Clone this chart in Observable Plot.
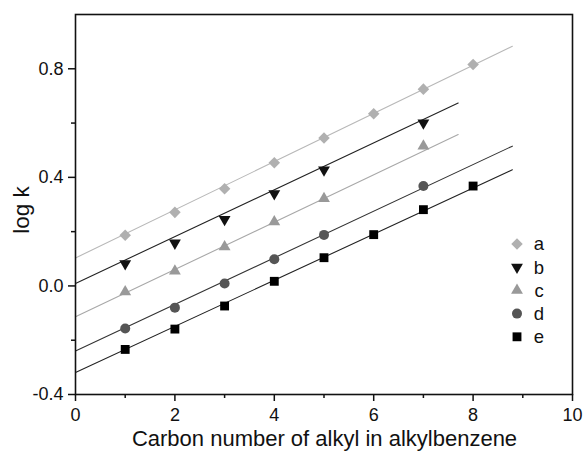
<!DOCTYPE html>
<html>
<head>
<meta charset="utf-8">
<script src="https://cdn.jsdelivr.net/npm/d3@7"></script>
<script src="https://cdn.jsdelivr.net/npm/@observablehq/plot@0.6"></script>
<style>
  html, body { margin: 0; padding: 0; background: #fff; }
  #chart { width: 583px; height: 452px; }
  svg { font-family: "Liberation Sans", Arial, sans-serif; }
</style>
</head>
<body>
<div id="chart"></div>
<script>
// log k versus carbon number of the alkyl chain, five systems a–e
const seriesNames = ["a", "b", "c", "d", "e"];

const carbonA = [1, 2, 3, 4, 5, 6, 7, 8];
const logkA   = [0.187, 0.271, 0.358, 0.454, 0.545, 0.634, 0.725, 0.816];

const carbonB = [1, 2, 3, 4, 5, 7];
const logkB   = [0.082, 0.158, 0.245, 0.340, 0.427, 0.601];

const carbonC = [1, 2, 3, 4, 5, 7];
const logkC   = [-0.022, 0.055, 0.144, 0.236, 0.322, 0.515];

const carbonD = [1, 2, 3, 4, 5, 7];
const logkD   = [-0.157, -0.080, 0.009, 0.098, 0.188, 0.368];

const carbonE = [1, 2, 3, 4, 5, 6, 7, 8];
const logkE   = [-0.234, -0.159, -0.074, 0.017, 0.104, 0.189, 0.281, 0.368];

// Linear fit lines: end points (carbon number, log k)
const fitX0 = [0, 0, 0, 0, 0];
const fitY0 = [0.103, 0.009, -0.114, -0.240, -0.319];
const fitX1 = [8.79, 7.70, 7.70, 8.79, 8.79];
const fitY1 = [0.883, 0.674, 0.558, 0.515, 0.428];

const xMajor = [0, 2, 4, 6, 8, 10];
const xMinor = [1, 3, 5, 7, 9];
const yMajor = [-0.4, 0.0, 0.4, 0.8];
const yMinor = [-0.2, 0.2, 0.6];

// styling per series
const symbols   = ["diamond2", "triangle", "triangle", "circle", "square"];
const rotations = [0, 180, 0, 0, 0];
const fills     = ["#b0b0b0", "#111111", "#999999", "#555555", "#000000"];
const lineCols  = ["#b8b8b8", "#222222", "#a8a8a8", "#333333", "#222222"];
const radii     = [5.2, 4.4, 4.4, 5, 5];

const carbons = [carbonA, carbonB, carbonC, carbonD, carbonE];
const logks   = [logkA, logkB, logkC, logkD, logkE];

const points = seriesNames.flatMap((s, i) =>
  carbons[i].map((c, j) => ({series: s, i, carbon: c, logk: logks[i][j]})));
const fits = seriesNames.flatMap((s, i) => [
  {series: s, i, carbon: fitX0[i], logk: fitY0[i]},
  {series: s, i, carbon: fitX1[i], logk: fitY1[i]}
]);

const fmt = d => d.toFixed(1).replace("\u2212", "-");
const TICK_FONT = 18;

const marks = [];
seriesNames.forEach((s, i) => {
  marks.push(Plot.line(fits.filter(d => d.i === i), {
    x: "carbon", y: "logk", stroke: lineCols[i], strokeWidth: 1.1
  }));
});
seriesNames.forEach((s, i) => {
  marks.push(Plot.dot(points.filter(d => d.i === i), {
    x: "carbon", y: "logk", symbol: () => symbols[i], fill: fills[i],
    stroke: "none", r: radii[i], rotate: rotations[i]
  }));
});

const chart = Plot.plot({
  width: 583,
  height: 452,
  marginLeft: 75,
  marginRight: 11,
  marginTop: 14,
  marginBottom: 58,
  style: {fontFamily: "'Liberation Sans', Arial, sans-serif", color: "#111"},
  x: {domain: [0, 10]},
  y: {domain: [-0.4, 1.0]},
  symbol: {type: "identity"},
  marks: [
    Plot.axisX({ticks: xMajor, tickSize: 7, text: null, label: null, strokeWidth: 1.5}),
    Plot.axisX({ticks: xMinor, tickSize: 4, text: null, label: null, strokeWidth: 1.5}),
    Plot.axisY({ticks: yMajor, tickSize: 7, text: null, label: null, strokeWidth: 1.5}),
    Plot.axisY({ticks: yMinor, tickSize: 4, text: null, label: null, strokeWidth: 1.5}),
    // tick labels drawn as text marks at the tick values
    Plot.text(xMajor, {x: d => d, frameAnchor: "bottom", dy: 21, text: d => String(d),
      fontSize: TICK_FONT, fill: "#111", lineAnchor: "middle"}),
    Plot.text(yMajor, {y: d => d, frameAnchor: "left", dx: -12, text: fmt,
      fontSize: TICK_FONT, fill: "#111", textAnchor: "end"}),
    ...marks,
    Plot.frame({stroke: "#111", strokeWidth: 1.6})
  ]
});

document.getElementById("chart").appendChild(chart);

const svg = d3.select(chart);
const xs = chart.scale("x"), ys = chart.scale("y");

// axis titles
svg.append("text")
  .attr("x", (xs.apply(0) + xs.apply(10)) / 2 + 1)
  .attr("y", 446)
  .attr("text-anchor", "middle")
  .attr("font-size", 22)
  .attr("fill", "#111")
  .text("Carbon number of alkyl in alkylbenzene");

svg.append("text")
  .attr("transform", `translate(29,${(ys.apply(-0.4) + ys.apply(1.0)) / 2 + 6}) rotate(-90)`)
  .attr("text-anchor", "middle")
  .attr("font-size", 22.5)
  .attr("fill", "#111")
  .text("log k");

// legend inside the plot area
const d3Symbols = {
  diamond2: d3.symbolDiamond2, triangle: d3.symbolTriangle,
  circle: d3.symbolCircle, square: d3.symbolSquare
};
const legend = svg.append("g").attr("transform", "translate(517,244)");
seriesNames.forEach((s, i) => {
  const g = legend.append("g").attr("transform", `translate(0,${i * 23.2})`);
  g.append("path")
    .attr("d", d3.symbol(d3Symbols[symbols[i]], Math.PI * radii[i] * radii[i])())
    .attr("transform", `rotate(${rotations[i]})`)
    .attr("fill", fills[i]);
  g.append("text")
    .attr("x", 22)
    .attr("dy", "0.35em")
    .attr("font-size", 18.5)
    .attr("fill", "#111")
    .text(s);
});
</script>
</body>
</html>
